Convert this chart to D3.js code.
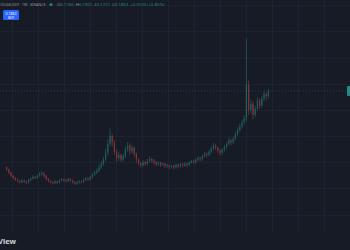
<!DOCTYPE html>
<html>
<head>
<meta charset="utf-8">
<script src="https://cdn.jsdelivr.net/npm/d3@7"></script>
<style>
  html, body { margin: 0; padding: 0; background: #171b26; overflow: hidden; }
  svg { display: block; font-family: "Noto Sans", sans-serif; }
</style>
</head>
<body>
<div id="chart"></div>
<script>
// weekly candles, price in USDT
const opens = [
  0.040, 0.036, 0.030, 0.024, 0.020,
  0.017, 0.014, 0.012, 0.015, 0.013, 0.011, 0.016, 0.019, 0.022, 0.020,
  0.024, 0.027, 0.029, 0.024, 0.018, 0.014,
  0.012, 0.010, 0.013, 0.011, 0.015, 0.017, 0.016, 0.014, 0.018, 0.015,
  0.012, 0.009, 0.011, 0.013, 0.012, 0.016, 0.019, 0.017, 0.021, 0.026,
  0.030, 0.034, 0.040, 0.046, 0.055, 0.068, 0.085,
  0.100, 0.088, 0.070, 0.058, 0.064,
  0.055, 0.062, 0.075, 0.082, 0.071, 0.078,
  0.066, 0.055, 0.048, 0.044, 0.050, 0.047, 0.052,
  0.056, 0.053, 0.050, 0.046, 0.049, 0.045, 0.047,
  0.043, 0.044, 0.041, 0.043, 0.040, 0.045, 0.042, 0.046,
  0.044, 0.047, 0.045, 0.049, 0.052, 0.050, 0.055, 0.058, 0.056, 0.062,
  0.066, 0.064, 0.070, 0.076, 0.082, 0.078, 0.072, 0.068, 0.074, 0.079,
  0.085, 0.092, 0.088, 0.095, 0.104, 0.112, 0.118, 0.126,
  0.134, 0.198,
  0.150, 0.162, 0.140, 0.152, 0.168, 0.158, 0.172, 0.180, 0.176
];
const highs = [
  0.042, 0.038, 0.032, 0.026, 0.022,
  0.019, 0.016, 0.018, 0.017, 0.015, 0.018, 0.021, 0.025, 0.024, 0.027,
  0.031, 0.033, 0.031, 0.026, 0.020, 0.016,
  0.014, 0.016, 0.015, 0.018, 0.020, 0.019, 0.018, 0.021, 0.020, 0.017,
  0.014, 0.014, 0.016, 0.015, 0.019, 0.022, 0.021, 0.024, 0.030, 0.034,
  0.038, 0.045, 0.052, 0.060, 0.076, 0.094, 0.116,
  0.104, 0.092, 0.074, 0.070, 0.066,
  0.066, 0.080, 0.088, 0.086, 0.083, 0.080,
  0.068, 0.058, 0.051, 0.054, 0.053, 0.056, 0.061,
  0.059, 0.056, 0.053, 0.052, 0.051, 0.050, 0.049,
  0.047, 0.046, 0.046, 0.045, 0.048, 0.047, 0.049, 0.048,
  0.050, 0.050, 0.052, 0.055, 0.055, 0.058, 0.062, 0.061, 0.065, 0.070,
  0.069, 0.073, 0.080, 0.087, 0.085, 0.080, 0.075, 0.077, 0.083, 0.089,
  0.097, 0.095, 0.099, 0.109, 0.117, 0.123, 0.131, 0.140,
  0.285, 0.206,
  0.170, 0.166, 0.158, 0.174, 0.172, 0.177, 0.186, 0.184, 0.190
];
const lows = [
  0.033, 0.027, 0.021, 0.017, 0.014,
  0.011, 0.009, 0.010, 0.010, 0.008, 0.009, 0.014, 0.017, 0.017, 0.018,
  0.022, 0.024, 0.020, 0.015, 0.011, 0.009,
  0.007, 0.008, 0.008, 0.009, 0.013, 0.012, 0.011, 0.012, 0.012, 0.009,
  0.006, 0.007, 0.009, 0.009, 0.010, 0.014, 0.014, 0.015, 0.019, 0.024,
  0.028, 0.031, 0.037, 0.043, 0.051, 0.063, 0.080,
  0.080, 0.064, 0.051, 0.053, 0.050,
  0.051, 0.058, 0.070, 0.065, 0.066, 0.060,
  0.049, 0.044, 0.040, 0.041, 0.042, 0.044, 0.049,
  0.048, 0.045, 0.042, 0.043, 0.041, 0.042, 0.039,
  0.039, 0.037, 0.038, 0.036, 0.038, 0.038, 0.040, 0.040,
  0.041, 0.041, 0.042, 0.047, 0.046, 0.047, 0.052, 0.051, 0.053, 0.059,
  0.059, 0.061, 0.066, 0.073, 0.073, 0.067, 0.063, 0.064, 0.070, 0.075,
  0.082, 0.082, 0.085, 0.091, 0.100, 0.108, 0.114, 0.122,
  0.128, 0.140,
  0.144, 0.132, 0.136, 0.148, 0.152, 0.154, 0.166, 0.168, 0.172
];
const closes = [
  0.036, 0.030, 0.024, 0.020, 0.017,
  0.014, 0.012, 0.015, 0.013, 0.011, 0.016, 0.019, 0.022, 0.020, 0.024,
  0.027, 0.029, 0.024, 0.018, 0.014, 0.012,
  0.010, 0.013, 0.011, 0.015, 0.017, 0.016, 0.014, 0.018, 0.015, 0.012,
  0.009, 0.011, 0.013, 0.012, 0.016, 0.019, 0.017, 0.021, 0.026, 0.030,
  0.034, 0.040, 0.046, 0.055, 0.068, 0.085, 0.100,
  0.088, 0.070, 0.058, 0.064, 0.055,
  0.062, 0.075, 0.082, 0.071, 0.078, 0.066,
  0.055, 0.048, 0.044, 0.050, 0.047, 0.052, 0.056,
  0.053, 0.050, 0.046, 0.049, 0.045, 0.047, 0.043,
  0.044, 0.041, 0.043, 0.040, 0.045, 0.042, 0.046, 0.044,
  0.047, 0.045, 0.049, 0.052, 0.050, 0.055, 0.058, 0.056, 0.062, 0.066,
  0.064, 0.070, 0.076, 0.082, 0.078, 0.072, 0.068, 0.074, 0.079, 0.085,
  0.092, 0.088, 0.095, 0.104, 0.112, 0.118, 0.126, 0.134,
  0.198, 0.150,
  0.162, 0.140, 0.152, 0.168, 0.158, 0.172, 0.180, 0.176, 0.186
];
const symbolLabel = 'DOGEUSDT · 1W · BINANCE';
const ohlcLabels = ['O', 'H', 'L', 'C'];
const ohlcValues = ['0.1760', '0.1901', '0.1721', '0.1863'];
const changeLabel = '+0.0103 (+5.85%)';
const lastPrice = '0.1863';

const width = 350, height = 250;
const weeks = d3.range(closes.length);

const svg = d3.select('#chart').append('svg')
  .attr('width', width)
  .attr('height', height);

svg.append('rect').attr('width', width).attr('height', height).attr('fill', '#171b26');

const x = d3.scaleBand().domain(weeks).range([5, 270]).padding(0.45);
const y = d3.scaleLinear().domain([-0.07, 0.36]).range([225, 0]);

// grid
const gridX = d3.scaleLinear().domain([0, 13]).range([12, 350]);
svg.append('g').selectAll('line').data(d3.range(14)).join('line')
  .attr('x1', d => Math.round(gridX(d)) + 0.5).attr('x2', d => Math.round(gridX(d)) + 0.5)
  .attr('y1', 0).attr('y2', 232)
  .attr('stroke', '#1d2230').attr('stroke-width', 1);
svg.append('g').selectAll('line').data(y.ticks(8)).join('line')
  .attr('x1', 0).attr('x2', width)
  .attr('y1', d => Math.round(y(d)) + 0.5).attr('y2', d => Math.round(y(d)) + 0.5)
  .attr('stroke', '#1d2230').attr('stroke-width', 1);

// candles
const up = '#26a69a', down = '#ef5350';
const candles = svg.append('g').attr('opacity', 0.48)
  .selectAll('g').data(weeks).join('g');
candles.append('line')
  .attr('x1', i => x(i) + x.bandwidth() / 2).attr('x2', i => x(i) + x.bandwidth() / 2)
  .attr('y1', i => y(highs[i])).attr('y2', i => y(lows[i]))
  .attr('stroke', i => closes[i] >= opens[i] ? up : down)
  .attr('stroke-width', 0.7);
candles.append('rect')
  .attr('x', i => x(i))
  .attr('width', x.bandwidth())
  .attr('y', i => y(Math.max(opens[i], closes[i])))
  .attr('height', i => Math.max(0.7, Math.abs(y(opens[i]) - y(closes[i]))))
  .attr('fill', i => closes[i] >= opens[i] ? up : down);

// last price line and label
const lastY = y(closes[closes.length - 1]);
svg.append('line')
  .attr('x1', 0).attr('x2', width)
  .attr('y1', lastY).attr('y2', lastY)
  .attr('stroke', up).attr('stroke-opacity', 0.3)
  .attr('stroke-dasharray', '1,2');
svg.append('rect')
  .attr('x', 347).attr('y', lastY - 5).attr('width', 10).attr('height', 10)
  .attr('rx', 1).attr('fill', up).attr('opacity', 0.8);

// header legend
const header = svg.append('g').attr('font-size', 4.3).attr('opacity', 0.75);
header.append('text').attr('x', 0.5).attr('y', 6)
  .attr('textLength', 45).attr('lengthAdjust', 'spacingAndGlyphs')
  .attr('fill', '#b2b5be').text(symbolLabel);
header.append('circle').attr('cx', 51).attr('cy', 4.5).attr('r', 1.6).attr('fill', up);
const ohlc = header.append('text').attr('x', 57).attr('y', 6);
ohlcLabels.forEach((l, i) => {
  ohlc.append('tspan').attr('fill', '#b2b5be').attr('dx', i ? 2 : 0).text(l);
  ohlc.append('tspan').attr('fill', up).text(ohlcValues[i]);
});
ohlc.append('tspan').attr('fill', up).attr('dx', 2).text(changeLabel);

// buy button
svg.append('rect').attr('x', 3).attr('y', 10).attr('width', 16).attr('height', 10)
  .attr('rx', 1.5).attr('fill', '#2962ff');
svg.append('text').attr('x', 11).attr('y', 14.5).attr('text-anchor', 'middle')
  .attr('font-size', 3.5).attr('fill', '#ffffff').text(lastPrice);
svg.append('text').attr('x', 11).attr('y', 18.5).attr('text-anchor', 'middle')
  .attr('font-size', 3.2).attr('fill', '#ffffff').text('BUY');

// watermark
svg.append('text').attr('x', 16).attr('y', 244).attr('text-anchor', 'end')
  .attr('font-size', 7.5).attr('font-weight', 'bold').attr('fill', '#d1d4dc')
  .text('TradingView');
</script>
</body>
</html>
